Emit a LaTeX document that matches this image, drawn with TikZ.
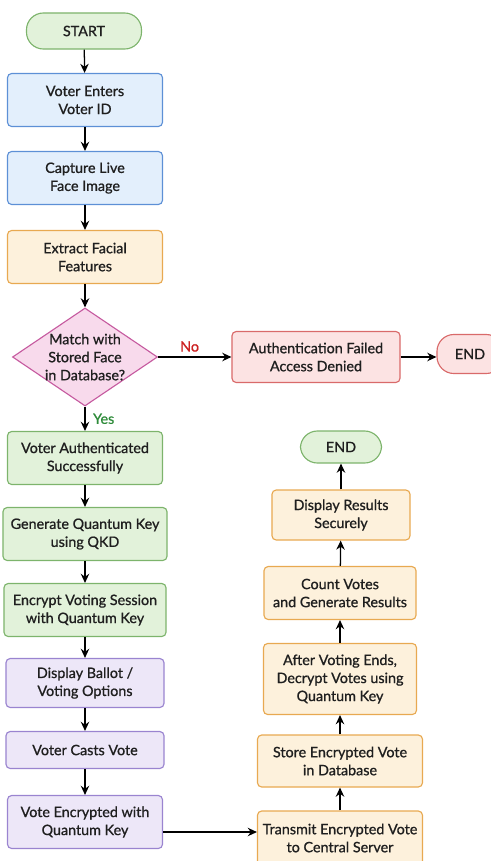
\documentclass[tikz,border=0pt]{standalone}
\usepackage{fontspec}
\setmainfont{Lato}[RawFeature={embolden=0.9}]
\usepackage{xcolor}
\usepackage{tikz}
\usetikzlibrary{shapes.geometric}
\usetikzlibrary{positioning, arrows.meta}

\definecolor{greenfill}{HTML}{E2F2DA}
\definecolor{greenline}{HTML}{7DB46C}
\definecolor{bluefill}{HTML}{E3EFFC}
\definecolor{blueline}{HTML}{5D90D6}
\definecolor{orangefill}{HTML}{FDF1DC}
\definecolor{orangeline}{HTML}{E8A951}
\definecolor{pinkfill}{HTML}{F8DAEC}
\definecolor{pinkline}{HTML}{C65BA0}
\definecolor{redfill}{HTML}{FCE3E3}
\definecolor{redline}{HTML}{D96A6A}
\definecolor{purplefill}{HTML}{EDE7F8}
\definecolor{purpleline}{HTML}{9A84D0}
\definecolor{nored}{HTML}{CC2222}
\definecolor{yesgreen}{HTML}{2E8B3A}

\begin{document}
\begin{tikzpicture}[
        x=0.025cm, y=-0.025cm,
        font=\fontsize{10.2}{12.8}\selectfont,
        block/.style={rectangle, draw, rounded corners=3pt, line width=0.8pt, align=center, text=black!88, minimum width=3.875cm, minimum height=1.325cm},
        greenblock/.style={block, fill=greenfill, draw=greenline},
        blueblock/.style={block, fill=bluefill, draw=blueline},
        orangeblock/.style={block, fill=orangefill, draw=orangeline},
        redblock/.style={block, fill=redfill, draw=redline},
        purpleblock/.style={block, fill=purplefill, draw=purpleline},
        terminal/.style={rectangle, draw, rounded corners=12pt, line width=0.8pt, align=center, text=black!88},
        decision/.style={diamond, draw=pinkline, fill=pinkfill, line width=0.8pt, align=center, inner sep=-4pt, aspect=1.48, minimum width=3.625cm, minimum height=2.45cm, text=black!88},
        arrow/.style={-{Stealth[length=6.5pt, width=6pt]}, line width=0.9pt}
    ]
        \useasboundingbox (0,0) rectangle (491,861);

        \node[terminal, fill=greenfill, draw=greenline, minimum width=2.875cm, minimum height=0.9cm] (start) at (84,31) {START};
        \node[blueblock] (enter) at (85,100) {Voter Enters\\Voter ID};
        \node[blueblock] (capture) at (85,178) {Capture Live\\Face Image};
        \node[orangeblock] (extract) at (85,257) {Extract Facial\\Features};
        \node[decision] (match) at (85,357) {Match with\\Stored Face\\in Database?};

        \node[redblock, minimum width=4.2cm, minimum height=1.275cm] (failed) at (316,357) {Authentication Failed\\Access Denied};
        \node[terminal, fill=redfill, draw=redline, minimum width=1.65cm, minimum height=0.975cm] (endfail) at (470,354) {END};

        \node[greenblock] (auth) at (85,458) {Voter Authenticated\\Successfully};
        \node[greenblock, minimum width=4.1cm] (qkd) at (85,534) {Generate Quantum Key\\using QKD};
        \node[greenblock, minimum width=4.05cm] (session) at (85,610) {Encrypt Voting Session\\with Quantum Key};
        \node[purpleblock, minimum width=3.95cm, minimum height=1.225cm] (ballot) at (85,683) {Display Ballot /\\Voting Options};
        \node[purpleblock, minimum width=3.95cm, minimum height=0.925cm] (cast) at (85,750) {Voter Casts Vote};
        \node[purpleblock] (encvote) at (85,822) {Vote Encrypted with\\Quantum Key};

        \node[orangeblock, minimum width=4.125cm, minimum height=1.35cm] (transmit) at (340,838) {Transmit Encrypted Vote\\to Central Server};
        \node[orangeblock, minimum width=4.125cm, minimum height=1.3cm] (store) at (340,761) {Store Encrypted Vote\\in Database};
        \node[orangeblock, minimum width=3.825cm, minimum height=1.775cm] (decrypt) at (340,679) {After Voting Ends,\\Decrypt Votes using\\Quantum Key};
        \node[orangeblock, minimum width=3.8cm, minimum height=1.325cm] (count) at (340,593) {Count Votes\\and Generate Results};
        \node[orangeblock, minimum width=3.45cm, minimum height=1.25cm] (results) at (341,515) {Display Results\\Securely};
        \node[terminal, fill=greenfill, draw=greenline, minimum width=2.025cm, minimum height=0.8cm] (endok) at (341,447) {END};

        \draw[arrow] (start) -- (enter);
        \draw[arrow] (enter) -- (capture);
        \draw[arrow] (capture) -- (extract);
        \draw[arrow] (extract) -- (match);
        \draw[arrow] (match) -- node[above, pos=0.43, text=nored] {No} (failed);
        \draw[arrow] (failed) -- (failed.east -| endfail.west);
        \draw[arrow] (match) -- node[right=2pt, text=yesgreen] {Yes} (auth);
        \draw[arrow] (auth) -- (qkd);
        \draw[arrow] (qkd) -- (session);
        \draw[arrow] (session) -- (ballot);
        \draw[arrow] (ballot) -- (cast);
        \draw[arrow] (cast) -- (encvote);
        \draw[arrow] ([yshift=-0.25cm]encvote.east) -- ([yshift=-0.25cm]encvote.east -| transmit.west);
        \draw[arrow] (transmit) -- (store);
        \draw[arrow] (store) -- (decrypt);
        \draw[arrow] (decrypt) -- (count);
        \draw[arrow] (count) -- (results);
        \draw[arrow] (results) -- (endok);
    \end{tikzpicture}
\end{document}
